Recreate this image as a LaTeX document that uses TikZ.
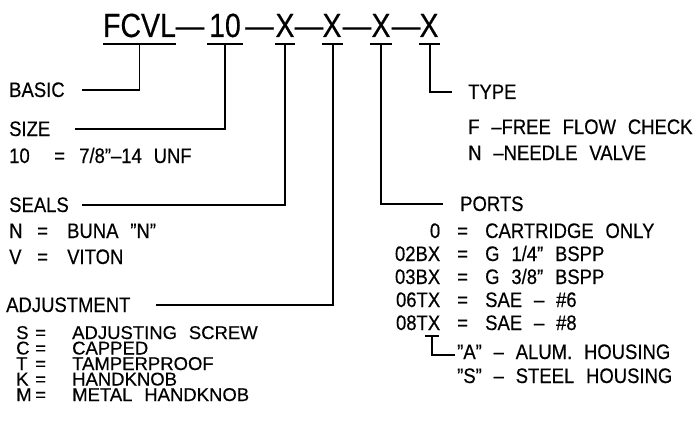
\documentclass[tikz,border=0pt]{standalone}
\usepackage{fontspec}
\setmainfont[WordSpace=2.3,FakeStretch=0.88,FakeBold=0.4]{Liberation Sans}
\newfontfamily\listfont[WordSpace=2.3,FakeBold=0.4]{Liberation Sans}
\newfontfamily\titlefont[FakeStretch=0.85,FakeBold=0.4]{Liberation Sans}
\usetikzlibrary{calc}
\newcommand{\lcode}[2]{\makebox[#1][l]{#2}}
\newcommand{\pcode}[1]{\makebox[60pt][r]{#1}\hspace{17pt}\makebox[28pt][l]{=}}
\begin{document}
\begin{tikzpicture}[x=1pt,y=-1pt,
  txt/.style={inner sep=0pt, anchor=base west, font=\fontsize{21pt}{21pt}\selectfont},
  ttl/.style={inner sep=0pt, anchor=base, font=\titlefont\fontsize{33.5pt}{33.5pt}\selectfont},
  ln/.style={line width=1.6pt, line join=miter}]
\useasboundingbox (0,0) rectangle (695,433);
% title
\node[ttl] (t1) at (139.5,37) {FCVL};
\node[ttl] (d1) at (190,37) {—};
\node[ttl] (t2) at (225,37) {10};
\node[ttl] (d2) at (259.5,37) {—};
\node[ttl] (t3) at (285,37) {X};
\node[ttl] (d3) at (309,37) {—};
\node[ttl] (t4) at (332,37) {X};
\node[ttl] (d4) at (357,37) {—};
\node[ttl] (t5) at (381,37) {X};
\node[ttl] (d5) at (406,37) {—};
\node[ttl] (t6) at (429,37) {X};
% underline coordinates
\coordinate (u1) at (139.5,44);
\coordinate (u2) at (225,44);
\coordinate (u3) at (285,44);
\coordinate (u4) at (333,44);
\coordinate (u5) at (381,44);
\coordinate (u6) at (430,44);
\draw[ln] (103,44) -- (176,44);
\draw[ln] (207,44) -- (243,44);
\draw[ln] (275,44) -- (295,44);
\draw[ln] (322,44) -- (343,44);
\draw[ln] (370,44) -- (392,44);
\draw[ln] (419,44) -- (440,44);
% left labels
\node[txt] (basic) at (9,97) {BASIC};
\node[txt] (size) at (9,136) {SIZE};
\node[txt] (size1) at (9,163) {\lcode{45pt}{10}\lcode{25pt}{=}7/8"–14 UNF};
\node[txt] (seals) at (9,212) {SEALS};
\node[txt] (sealN) at (9,238) {\lcode{28pt}{N}\lcode{30pt}{=}BUNA "N"};
\node[txt] (sealV) at (9,264) {\lcode{28pt}{V}\lcode{30pt}{=}VITON};
\node[txt] (adj) at (6,312) {ADJUSTMENT};
\node[txt, align=left, font=\listfont\fontsize{18.5pt}{15.5pt}\selectfont] (adjlist) at (16,401)
  {\lcode{19pt}{S}\lcode{37pt}{=}ADJUSTING SCREW\\
   \lcode{19pt}{C}\lcode{37pt}{=}CAPPED\\
   \lcode{19pt}{T}\lcode{37pt}{=}TAMPERPROOF\\
   \lcode{19pt}{K}\lcode{37pt}{=}HANDKNOB\\
   \lcode{19pt}{M}\lcode{37pt}{=}METAL HANDKNOB};
% right labels
\node[txt] (type) at (468,99) {TYPE};
\node[txt] (typeF) at (468,134) {F –FREE FLOW CHECK};
\node[txt] (typeN) at (468,160) {N –NEEDLE VALVE};
\node[txt] (ports) at (460,211) {PORTS};
\node[txt] (p0) at (380,238) {\pcode{0}CARTRIDGE ONLY};
\node[txt] (p02) at (380,261) {\pcode{02BX}G 1/4" BSPP};
\node[txt] (p03) at (380,284) {\pcode{03BX}G 3/8" BSPP};
\node[txt] (p06) at (380,307) {\pcode{06TX}SAE – \#6};
\node[txt] (p08) at (380,330) {\pcode{08TX}SAE – \#8};
\node[txt] (hA) at (457,359) {"A" – ALUM. HOUSING};
\node[txt] (hS) at (457,383) {"S" – STEEL HOUSING};
% connectors
\draw[ln] (u1) |- ([xshift=17pt]basic.east);
\draw[ln] (u2) |- ([xshift=25pt]size.east);
\draw[ln] (u3) |- ([xshift=13pt]seals.east);
\draw[ln] (u4) |- ([xshift=25pt]adj.east);
\draw[ln] (u5) |- ([xshift=-17pt]ports.west);
\draw[ln] (u6) |- ([xshift=-16pt]type.west);
\coordinate (brtop) at (432,336);
\draw[ln] (425,336) -- (439,336);
\draw[ln] (brtop) |- ([xshift=-2pt,yshift=-3pt]hA.west);
\end{tikzpicture}
\end{document}
